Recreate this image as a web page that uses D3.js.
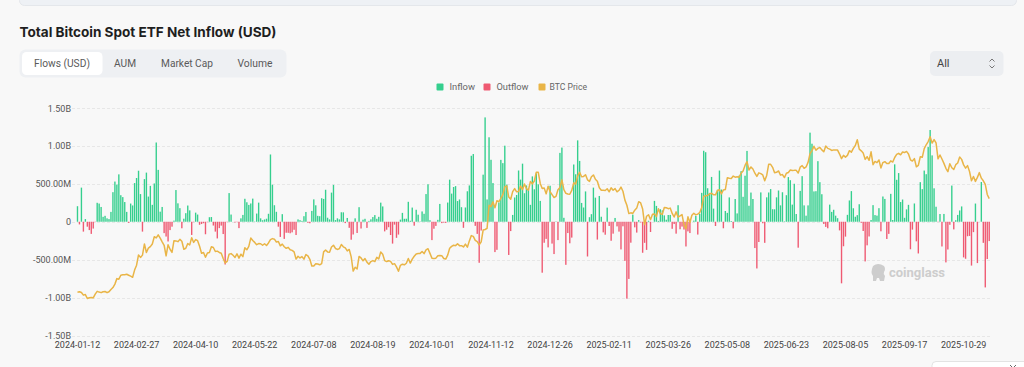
<!DOCTYPE html>
<html>
<head>
<meta charset="utf-8">
<script src="https://cdn.jsdelivr.net/npm/d3@7/dist/d3.min.js"></script>
<style>
  html, body { margin: 0; padding: 0; background: #f8f8f8; }
  svg { display: block; }
  text { font-family: Roboto, "Noto Sans", sans-serif; }
</style>
</head>
<body>
<svg id="chart" width="1024" height="367"></svg>
<script>
// ---------------- DATA ----------------
// US market holidays (no ETF trading) inside the covered period
const holidays = ["2024-01-15","2024-02-19","2024-03-29","2024-05-27","2024-06-19","2024-07-04","2024-09-02",
  "2024-11-28","2024-12-25","2025-01-01","2025-01-09","2025-01-20","2025-02-17","2025-04-18","2025-05-26",
  "2025-06-19","2025-07-04","2025-09-01"];
const firstDay = "2024-01-12";

const tickLabels = ["2024-01-12","2024-02-27","2024-04-10","2024-05-22","2024-07-08","2024-08-19","2024-10-01",
  "2024-11-12","2024-12-26","2025-02-11","2025-03-26","2025-05-08","2025-06-23","2025-08-05","2025-09-17","2025-10-29"];

const yTicks = [-1500, -1000, -500, 0, 500, 1000, 1500]; // millions USD

// daily net flow, millions USD
const flows2024 = [
  205,-35,450,-130,35,-65,-110,-160,-90,-5,250,240,195,
  65,78,45,35,130,390,530,490,625,350,325,260,130,-15,240,215,510,577,673,365,
  -130,562,648,332,473,223,505,1045,684,133,195,-150,-195,-260,-110,-65,15,418,243,179,
  -86,40,113,214,150,-174,-5,120,95,-40,-30,-20,-165,-5,60,62,-50,-130,-220,-84,-51,-162,
  -564,-5,378,95,0,-10,-5,-84,45,90,303,257,222,241,305,4,108,252,45,20,30,40,
  105,887,488,218,131,-65,-200,100,-226,-145,-146,-152,-140,-106,-175,31,21,11,73,
  129,-13,-20,143,295,217,78,73,310,301,422,53,31,384,486,22,45,31,125,124,-18,50,
  -80,-237,-168,45,-148,192,-89,27,39,-81,11,32,62,88,39,65,252,202,-127,-105,-72,-175,
  -288,-38,-212,-169,28,117,39,40,263,13,187,-52,158,93,4,136,105,365,494,20,
  -242,-92,-55,25,235,-18,-10,-15,253,555,371,458,470,273,294,192,-80,188,402,479,870,893,-54,
  -160,-541,-116,621,1376,294,1114,817,510,-400,-370,255,816,773,1003,490,-438,-123,90,320,
  353,676,556,766,376,479,439,223,598,428,637,493,275,-672,-277,-226,-338,475,-288,-426,5
];
const flows2025 = [
  -242,908,978,52,-568,-149,-284,-209,755,626,1073,802,248,188,400,-458,60,100,450,318,
  -235,340,66,-140,-171,186,-56,-251,-157,50,-61,-130,-365,-60,-516,-1014,-754,-276,94,
  -74,-143,22,-10,-409,-278,-371,13,-135,0,275,209,11,165,150,84,27,89,90,-93,-30,
  -157,218,-99,-64,-103,-326,-127,-149,1,15,76,-169,107,381,936,917,442,381,591,173,-56,
  422,675,425,-86,142,117,321,10,-87,300,110,608,667,329,607,934,211,385,300,-347,-616,
  -267,387,-20,-278,322,386,431,165,164,322,412,216,389,6,350,589,548,226,501,102,
  -342,407,601,216,80,216,1175,1029,400,403,799,522,363,-30,-68,-86,226,130,158,80,47,-114,
  -812,-323,-196,91,281,404,178,66,87,231,-14,-122,-523,-311,-194,23,219,88,81,179,-126,
  333,301,-227,-160,368,23,757,553,642,260,293,52,163,223,-363,-104,241,-258,-418,522,430,
  675,627,985,1210,875,441,198,-4,102,-326,103,-536,-366,-40,477,-101,20,90,149,202,-470,-488,-191,
  -187,-578,-137,240,-545,1,524,-278,-866,-492,-255
];

// BTC price, thousands USD
const price2024 = [
  42.8,43.1,42.7,41.3,41.6,39.5,39.9,40.1,39.9,41.8,43.3,42.9,42.6,
  43.1,43.2,42.6,43.1,44.3,45.3,47.1,50.0,49.7,51.8,52.0,52.1,52.3,51.8,51.3,50.7,54.5,57.1,62.5,61.2,
  62.4,68.3,63.8,66.1,66.9,68.3,72.1,71.5,73.1,71.4,69.4,67.6,62.0,67.9,65.5,63.8,70.0,69.9,69.5,70.7,
  69.7,65.5,66.0,68.5,67.8,71.6,69.1,70.6,70.0,67.1,63.4,63.8,61.3,63.5,63.8,66.8,66.4,64.3,64.5,63.8,63.4,60.6,
  58.3,59.1,62.9,63.2,62.3,61.2,63.1,60.8,62.9,61.6,66.3,65.2,67.0,71.4,70.1,69.1,67.9,68.5,68.4,67.6,68.4,67.5,
  68.8,70.6,71.1,70.8,69.3,69.6,67.3,68.2,66.8,66.0,66.5,65.2,64.9,64.1,60.3,61.8,60.9,61.6,60.3,
  62.7,62.0,60.2,56.7,56.7,57.9,57.7,57.3,57.9,64.1,65.1,64.1,63.9,66.7,67.6,65.9,65.4,65.8,68.0,66.8,66.2,64.6,
  65.4,61.5,54.0,56.0,55.1,61.7,60.9,59.4,60.6,58.7,57.6,59.0,59.5,59.0,61.2,60.4,64.1,62.9,59.5,59.0,59.4,59.1,
  57.5,57.9,56.2,53.9,57.0,57.6,57.3,58.1,60.6,58.2,60.3,61.8,63.0,63.2,63.3,64.3,63.2,65.2,65.8,63.3,
  60.8,60.6,60.8,62.1,62.2,62.1,60.6,60.3,62.4,66.0,67.0,67.6,67.4,68.4,67.4,67.4,66.7,68.2,66.6,69.9,72.7,72.3,70.2,
  69.5,67.8,69.4,75.6,75.9,76.5,88.7,88.0,90.5,87.4,91.1,90.6,92.3,94.3,98.4,98.9,93.0,91.9,95.9,97.5,
  95.8,96.0,98.8,97.0,99.9,97.4,96.7,101.2,100.0,101.5,106.1,106.1,100.2,97.5,97.8,94.7,98.7,95.8,94.3,92.8,93.4
];
const price2025 = [
  96.9,98.1,102.1,96.9,95.0,94.6,94.5,96.5,100.5,99.9,104.1,106.1,103.7,103.9,104.8,102.1,101.3,103.7,104.7,102.4,
  101.4,97.9,96.6,96.6,96.5,97.4,95.8,97.9,96.6,97.5,95.8,96.6,98.3,96.1,91.4,88.7,84.3,84.7,84.4,
  86.1,87.2,90.6,89.9,86.7,78.5,82.9,83.7,81.1,84.0,84.1,82.7,86.9,84.2,84.0,87.5,87.4,86.9,87.2,84.4,82.5,
  85.2,82.5,83.1,83.8,78.4,76.3,82.6,79.6,83.4,84.5,83.6,84.0,84.9,87.5,93.4,93.7,93.9,94.7,95.0,94.3,94.2,
  96.5,96.9,94.7,96.8,97.0,103.2,102.9,102.8,104.1,103.5,103.7,103.5,105.6,106.8,109.7,111.7,107.3,108.9,107.8,105.6,103.9,
  105.8,105.4,104.7,101.6,104.4,110.3,110.3,108.7,105.9,106.1,106.8,104.6,104.9,103.3,105.6,106.0,107.3,107.0,107.1,107.1,
  105.7,108.8,109.6,108.2,108.9,111.3,115.9,117.5,119.8,117.7,118.7,119.2,117.9,116.9,119.9,118.7,118.3,117.6,117.9,117.8,117.8,115.7,
  113.3,115.0,114.1,115.0,117.5,116.7,118.7,120.2,123.3,118.3,117.4,116.3,112.9,114.3,112.4,116.9,110.1,111.8,111.2,112.6,108.4,
  111.2,111.7,110.7,110.7,112.1,111.5,113.9,115.5,116.1,115.3,116.8,116.5,117.1,115.7,112.7,112.0,113.3,109.0,109.7,114.3,114.0,
  118.6,120.6,122.3,124.8,121.5,123.3,121.6,113.2,115.2,113.1,110.8,108.2,106.4,110.6,108.5,107.6,110.1,111.0,114.1,112.9,110.0,108.3,109.6,
  106.5,101.6,103.9,101.3,103.4,105.9,103.0,101.6,99.7,94.4,92.2
];

const seriesNames = ["Inflow", "Outflow", "BTC Price"];
const tabNames = ["Flows (USD)", "AUM", "Market Cap", "Volume"];

// ---------------- BUILD ----------------
const flows = flows2024.concat(flows2025);
const prices = price2024.concat(price2025);
const N = flows.length;

// trading-day calendar
const hol = new Set(holidays);
const dates = [];
{
  let d = new Date(firstDay + "T00:00:00Z");
  while (dates.length < N) {
    const wd = d.getUTCDay();
    const iso = d.toISOString().slice(0, 10);
    if (wd !== 0 && wd !== 6 && !hol.has(iso)) dates.push(iso);
    d = new Date(d.getTime() + 86400000);
  }
}
const data = dates.map((dt, i) => ({ date: dt, flow: flows[i], price: prices[i] }));

const C = { green: "#35cf8e", red: "#ef5a72", gold: "#e9b547", grid: "#e7e7e7", axisText: "#555", bg: "#f8f8f8" };

const svg = d3.select("#chart");

function fit(sel, target) {
  const node = sel.node();
  const w = node.getComputedTextLength();
  const fs = parseFloat(sel.attr("font-size"));
  if (w > 0) sel.attr("font-size", (fs * target / w).toFixed(2));
  return sel;
}

// top band (previous card edge)
svg.append("rect").attr("x", 19.5).attr("y", -6).attr("width", 997).attr("height", 11.5)
  .attr("rx", 5).attr("fill", "#eef1f5").attr("stroke", "#e4e7eb");

// title
fit(svg.append("text").attr("x", 19.5).attr("y", 36.5).attr("font-size", 15).attr("font-weight", 700)
  .attr("fill", "#1e1e1e").style("font-family", "Inter, Roboto, sans-serif")
  .text("Total Bitcoin Spot ETF Net Inflow (USD)"), 257);

// tabs
svg.append("rect").attr("x", 19.5).attr("y", 49.5).attr("width", 267).attr("height", 28).attr("rx", 6).attr("fill", "#eef0f3");
svg.append("rect").attr("x", 22).attr("y", 52).attr("width", 80.5).attr("height", 23).attr("rx", 4.5).attr("fill", "#ffffff");
const tabCenters = [62, 125, 187, 255];
const tabWidths = [56, 22, 52, 35];
tabNames.forEach((t, i) => {
  fit(svg.append("text").attr("x", tabCenters[i]).attr("y", 67.3).attr("text-anchor", "middle")
    .attr("font-size", 11).attr("fill", "#5a5a5a").text(t), tabWidths[i]);
});

// "All" select
svg.append("rect").attr("x", 930).attr("y", 51).attr("width", 73.5).attr("height", 25).attr("rx", 5).attr("fill", "#eceef1");
svg.append("text").attr("x", 937).attr("y", 67.3).attr("font-size", 11).attr("fill", "#444").text("All");
svg.append("path").attr("d", "M989.5,61.5 L992,59 L994.5,61.5 M989.5,65.5 L992,68 L994.5,65.5")
  .attr("fill", "none").attr("stroke", "#777").attr("stroke-width", 1);

// legend
const legendItems = [
  { name: seriesNames[0], color: C.green, sx: 436.5, tx: 449.5 },
  { name: seriesNames[1], color: C.red, sx: 483.5, tx: 496.5 },
  { name: seriesNames[2], color: C.gold, sx: 538.5, tx: 549.5 }
];
const legendW = [25.5, 32, 37.5];
legendItems.forEach((l, i) => {
  svg.append("rect").attr("x", l.sx).attr("y", 83.5).attr("width", 7).attr("height", 7).attr("rx", 1).attr("fill", l.color);
  fit(svg.append("text").attr("x", l.tx).attr("y", 90.3).attr("font-size", 9).attr("fill", "#666").text(l.name), legendW[i]);
});

// scales
const plot = { left: 72, right: 990, top: 108, bottom: 335.5 };
const x = d3.scaleBand().domain(dates).range([76.5, 990.2]).paddingInner(0.3).paddingOuter(0.15);
const y = d3.scaleLinear().domain([yTicks[0], yTicks[yTicks.length - 1]]).range([plot.bottom, plot.top]);
const yP = d3.scaleLinear().domain([20, 140]).range([plot.bottom, plot.top]);

// grid
svg.append("g").selectAll("line").data(yTicks).join("line")
  .attr("x1", plot.left).attr("x2", plot.right)
  .attr("y1", d => Math.round(y(d)) + 0.5).attr("y2", d => Math.round(y(d)) + 0.5)
  .attr("stroke", C.grid).attr("stroke-width", 1).attr("stroke-dasharray", "3,2");

// y axis labels
const fmtY = v => v === 0 ? "0" : (Math.abs(v) >= 1000 ? (v / 1000).toFixed(2) + "B" : v.toFixed(2) + "M");
const gy = svg.append("g").attr("transform", `translate(${plot.left},0)`)
  .call(d3.axisLeft(y).tickValues(yTicks).tickFormat(fmtY).tickSize(0).tickPadding(1));
gy.select(".domain").remove();
gy.selectAll("text").attr("font-size", 9).attr("fill", "#555").style("font-family", "Roboto, sans-serif").attr("dy", "0.34em");

// x axis labels
const gx = svg.append("g").attr("transform", `translate(0,${plot.bottom})`)
  .call(d3.axisBottom(x).tickValues(tickLabels).tickSize(0).tickPadding(6));
gx.select(".domain").remove();
gx.selectAll("text").attr("font-size", 9).attr("fill", "#444").style("font-family", "Roboto, sans-serif");

// watermark
const wm = svg.append("g").attr("fill", "#cdcdcd");
wm.append("path").attr("d", "M873,266 q5,-4 11,0 q2,3 0,6 q-1,2 1,4 l-1,5 h-4 l-1,-3 h-2 l-1,3 h-3 l0,-5 q-3,-3 0,-10 z");
fit(wm.append("text").attr("x", 889).attr("y", 277).attr("font-size", 14).attr("font-weight", 700)
  .style("font-family", "Roboto, sans-serif").text("coinglass"), 56);

// bars
svg.append("g").selectAll("rect").data(data).join("rect")
  .attr("x", d => x(d.date))
  .attr("width", x.bandwidth())
  .attr("y", d => y(Math.max(0, d.flow)))
  .attr("height", d => Math.abs(y(d.flow) - y(0)))
  .attr("fill", d => d.flow >= 0 ? C.green : C.red);

// price line
const line = d3.line().x(d => x(d.date) + x.bandwidth() / 2).y(d => yP(d.price));
svg.append("path").datum(data).attr("d", line).attr("fill", "none")
  .attr("stroke", C.gold).attr("stroke-width", 1.5).attr("stroke-linejoin", "round");

// bottom-right control edge
svg.append("rect").attr("x", 932).attr("y", 361.5).attr("width", 100).attr("height", 20).attr("rx", 4)
  .attr("fill", "#ffffff").attr("stroke", "#e3e3e3");
svg.append("path").attr("d", "M1010,365 L1013,368 L1016,365").attr("fill", "none").attr("stroke", "#666").attr("stroke-width", 1);
</script>
</body>
</html>
